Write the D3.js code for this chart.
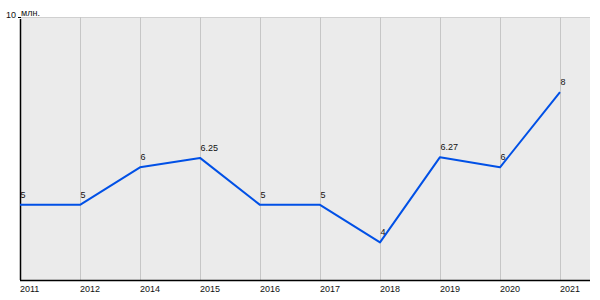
<!DOCTYPE html>
<html>
<head>
<meta charset="utf-8">
<script src="https://cdn.jsdelivr.net/npm/d3@7"></script>
<style>
  html, body { margin: 0; padding: 0; background: #fff; }
  svg { display: block; }
  text { font-family: "Liberation Sans", Arial, sans-serif; font-size: 9px; fill: #111; }
</style>
</head>
<body>
<svg id="chart" width="600" height="300"></svg>
<script>
const years = ["2011", "2012", "2014", "2015", "2016", "2017", "2018", "2019", "2020", "2021"];
const values = [5, 5, 6, 6.25, 5, 5, 4, 6.27, 6, 8];
const valueLabels = ["5", "5", "6", "6.25", "5", "5", "4", "6.27", "6", "8"];
const yDomain = [3, 10];
const yTopLabel = "10";
const unitLabel = "млн.";

const svg = d3.select("#chart");
const mLeft = 20, mRight = 590, mTop = 17, mBottom = 280;

const x = d3.scalePoint().domain(years).range([mLeft, 560]);
const y = d3.scaleLinear().domain(yDomain).range([mBottom, mTop]);

// plot background
svg.append("rect")
  .attr("x", mLeft).attr("y", mTop)
  .attr("width", mRight - mLeft).attr("height", mBottom - mTop)
  .attr("fill", "#ebebeb");

// top line
svg.append("line")
  .attr("x1", mLeft).attr("x2", mRight)
  .attr("y1", mTop + 0.5).attr("y2", mTop + 0.5)
  .attr("stroke", "#d0d0d0");

// vertical grid lines
svg.append("g").selectAll("line").data(years.slice(1)).join("line")
  .attr("x1", d => Math.round(x(d)) + 0.5).attr("x2", d => Math.round(x(d)) + 0.5)
  .attr("y1", mTop).attr("y2", mBottom)
  .attr("stroke", "#c6c6c6");

// axes lines
svg.append("line")
  .attr("x1", mLeft + 0.5).attr("x2", mLeft + 0.5)
  .attr("y1", mTop + 2).attr("y2", mBottom)
  .attr("stroke", "#000").attr("stroke-width", 1.5);
svg.append("line")
  .attr("x1", mLeft).attr("x2", mRight)
  .attr("y1", mBottom + 0.5).attr("y2", mBottom + 0.5)
  .attr("stroke", "#000").attr("stroke-width", 1.5);

// small top tick
svg.append("line")
  .attr("x1", mLeft - 2).attr("x2", mLeft + 1)
  .attr("y1", y(10) + 0.5).attr("y2", y(10) + 0.5)
  .attr("stroke", "#000");

// y top label and unit
svg.append("text").attr("x", mLeft - 4).attr("y", y(10) + 0.5)
  .attr("text-anchor", "end").text(yTopLabel);
svg.append("text").attr("x", mLeft + 1).attr("y", y(10) - 1)
  .text(unitLabel);

// x labels
svg.append("g").selectAll("text").data(years).join("text")
  .attr("x", d => x(d))
  .attr("y", 292)
  .text(d => d);

// line
const data = years.map((d, i) => ({ year: d, value: values[i], label: valueLabels[i] }));
svg.append("path")
  .datum(data)
  .attr("fill", "none")
  .attr("stroke", "#0050e6")
  .attr("stroke-width", 2)
  .attr("stroke-linejoin", "round")
  .attr("d", d3.line().x(d => x(d.year)).y(d => y(d.value)));

// value labels
svg.append("g").selectAll("text").data(data).join("text")
  .attr("x", d => x(d.year) + 0.5)
  .attr("y", d => y(d.value) - 7)
  .text(d => d.label);
</script>
</body>
</html>
